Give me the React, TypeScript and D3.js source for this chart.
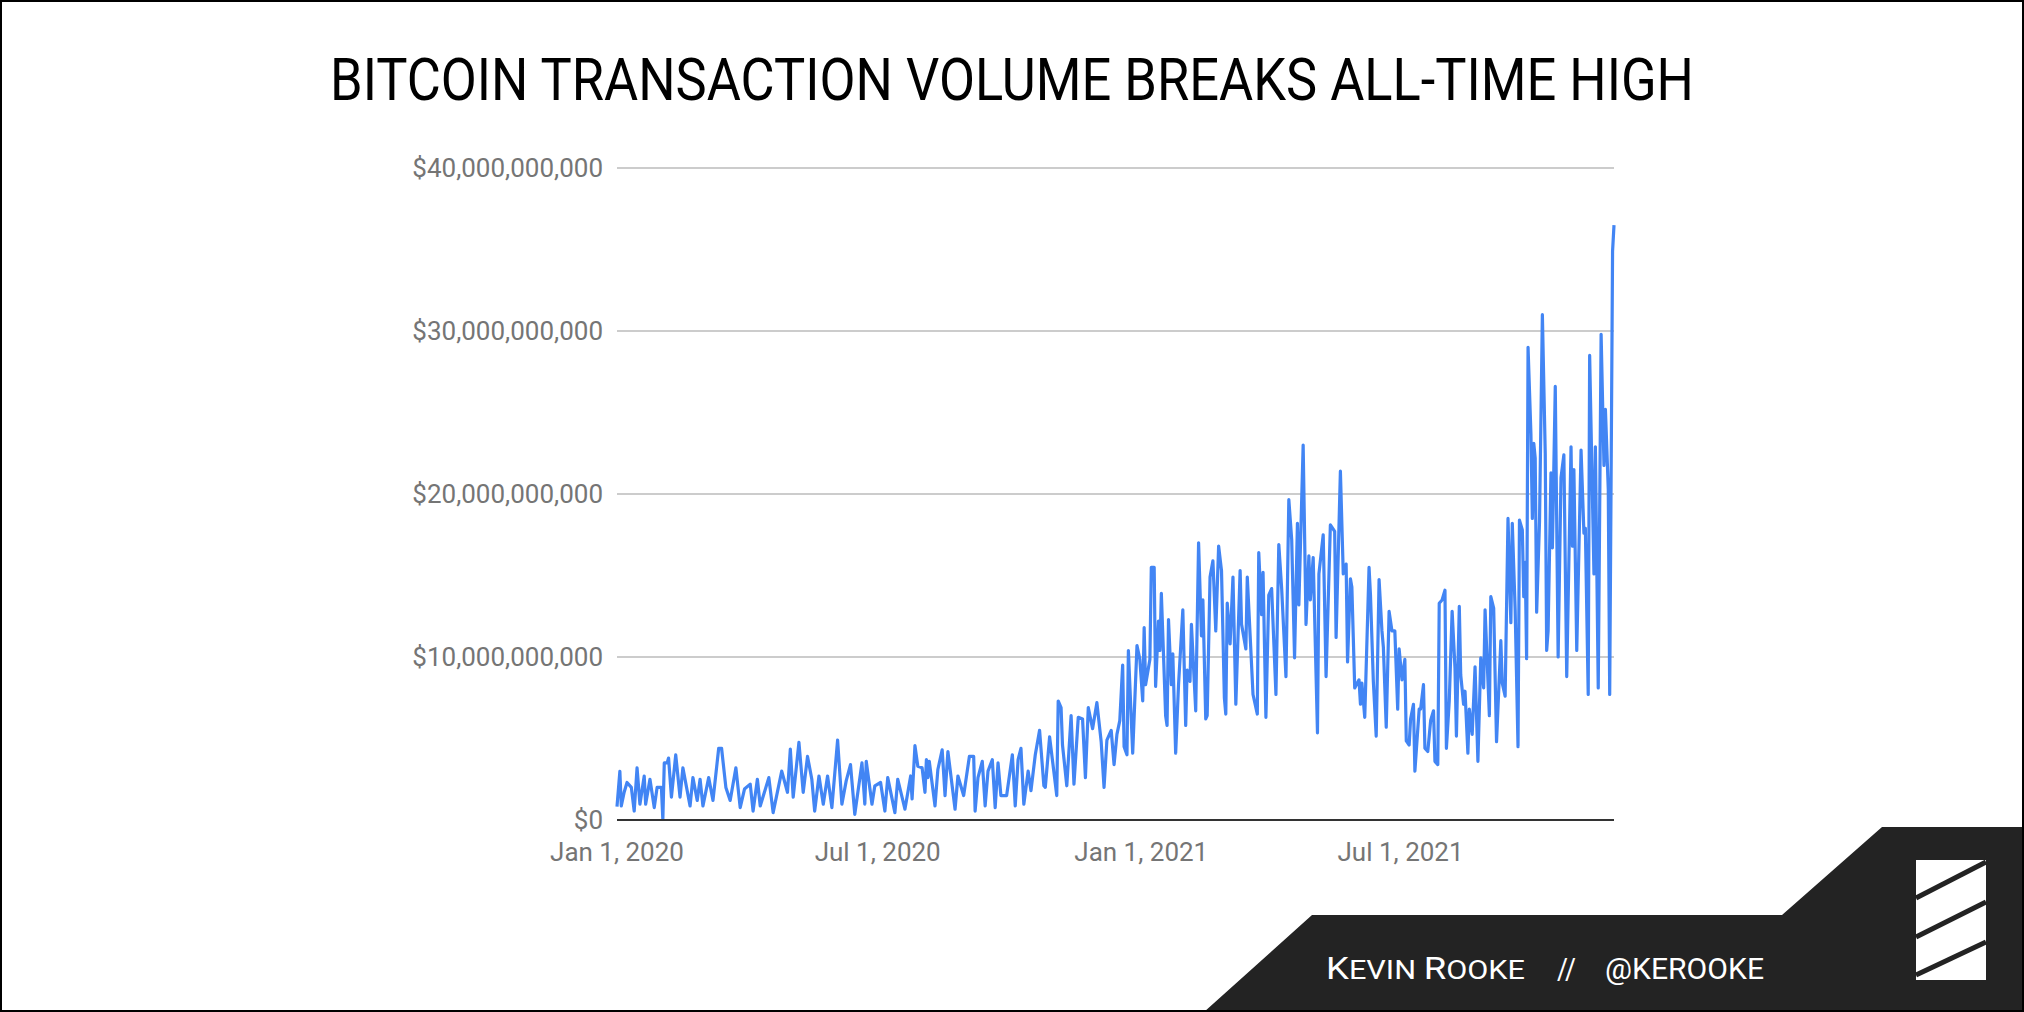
import React, { useRef, useEffect } from "react";
import * as d3 from "d3";

// days counted from Jan 1, 2020 (daily peaks and troughs)
const dayOffsets: number[] = [
  0, 2, 3, 5, 7, 10, 12, 14, 16, 19, 20, 23, 26, 28, 31, 32, 33, 35, 36, 38,
  41, 44, 46, 51, 53, 56, 58, 60, 64, 67, 69, 71, 73, 76, 79, 83, 86, 89, 93, 95,
  98, 100, 106, 109, 115, 119, 121, 123, 127, 130, 133, 136, 138, 141, 144, 147, 150, 154, 157, 160,
  163, 166, 171, 173, 174, 178, 180, 184, 187, 189, 194, 196, 201, 205, 206, 208, 210, 213, 215, 216,
  217, 218, 222, 224, 227, 229, 231, 236, 238, 242, 246, 249, 250, 252, 255, 257, 259, 262, 264, 266,
  268, 272, 276, 278, 280, 282, 284, 287, 289, 292, 295, 298, 299, 302, 307, 308, 310, 311, 314, 317,
  319, 322, 325, 327, 329, 332, 335, 338, 340, 342, 345, 347, 349, 351, 353, 354, 356, 357, 360, 363,
  365, 367, 368, 369, 372, 373, 375, 376, 378, 379, 380, 383, 384, 385, 387, 388, 390, 392, 395, 397,
  398, 400, 401, 404, 406, 408, 409, 411, 412, 414, 416, 418, 420, 422, 424, 425, 426, 428, 430, 432,
  435, 436, 439, 440, 444, 447, 448, 450, 451, 453, 455, 457, 460, 462, 464, 467, 469, 471, 473, 475,
  476, 479, 481, 483, 484, 486, 489, 490, 493, 495, 498, 501, 502, 505, 507, 509, 510, 512, 513, 514,
  515, 518, 519, 520, 522, 525, 526, 528, 530, 532, 534, 535, 537, 539, 541, 543, 545, 546, 548, 550,
  551, 553, 554, 556, 557, 560, 561, 563, 564, 566, 568, 570, 571, 573, 574, 576, 578, 579, 581, 583,
  585, 586, 588, 589, 591, 592, 594, 595, 597, 599, 601, 603, 605, 606, 609, 610, 612, 614, 617, 618,
  620, 622, 624, 625, 627, 629, 630, 632, 633, 634, 635, 636, 638, 639, 640, 641, 642, 644, 646, 648,
  649, 650, 652, 653, 655, 657, 659, 661, 663, 666, 667, 668, 670, 673, 675, 676, 678, 679, 682, 683,
  685, 687, 689, 690, 692, 693, 695, 696,
];

// transaction volume in billions of dollars
const volumeBillions: number[] = [
  0.82, 2.98, 0.86, 1.7, 2.3, 2.0, 0.55, 3.2, 0.97, 2.7, 0.97, 2.5, 0.76, 2.0, 2.0, 0.04, 3.5, 3.5, 3.8, 1.4,
  4.0, 1.4, 3.2, 0.86, 2.6, 1.2, 2.5, 0.86, 2.6, 1.2, 2.8, 4.4, 4.4, 2.0, 1.2, 3.2, 0.76, 1.9, 2.2, 0.55,
  2.5, 0.86, 2.6, 0.45, 3.0, 1.7, 4.35, 1.4, 4.76, 1.7, 3.9, 2.5, 0.55, 2.7, 0.97, 2.7, 0.76, 4.9, 0.97, 2.4,
  3.4, 0.35, 3.5, 0.97, 3.6, 0.97, 2.1, 2.3, 0.55, 2.6, 0.45, 2.5, 0.66, 2.7, 1.3, 4.56, 3.3, 3.2, 1.7, 3.7,
  2.6, 3.6, 0.86, 3.1, 4.3, 1.5, 4.2, 0.66, 2.7, 1.5, 3.9, 3.9, 0.55, 2.6, 3.6, 0.86, 3.0, 3.7, 0.76, 3.5,
  1.5, 1.5, 4.0, 0.86, 3.7, 4.4, 0.97, 3.0, 1.8, 4.0, 5.5, 2.1, 2.0, 5.1, 1.5, 7.3, 6.9, 4.6, 2.1, 6.4,
  2.2, 6.3, 6.2, 2.6, 6.9, 5.6, 7.2, 4.8, 2.0, 4.9, 5.5, 3.4, 5.25, 6.1, 9.5, 4.5, 4.0, 10.4, 4.1, 10.7,
  9.85, 7.3, 11.8, 8.3, 9.85, 15.5, 15.5, 8.2, 12.2, 10.4, 13.9, 6.4, 5.8, 12.3, 8.3, 10.2, 4.1, 8.3, 12.9, 5.8,
  9.2, 8.5, 12.0, 6.7, 17.0, 11.3, 13.5, 6.2, 6.4, 14.9, 15.9, 11.6, 16.8, 15.3, 7.5, 6.5, 13.3, 10.8, 14.9, 7.1,
  15.3, 12.0, 10.5, 14.9, 7.7, 6.5, 16.4, 12.6, 15.2, 6.3, 13.8, 14.2, 7.7, 16.9, 14.2, 8.8, 19.65, 17.2, 9.95, 18.2,
  13.2, 23.0, 12.0, 16.2, 13.5, 16.1, 5.35, 15.1, 17.5, 8.8, 18.1, 17.7, 11.2, 21.4, 15.1, 15.7, 9.7, 14.8, 14.3, 11.2,
  8.1, 8.6, 7.1, 8.4, 6.3, 15.5, 13.8, 8.5, 5.15, 14.75, 11.6, 10.6, 5.7, 12.8, 11.6, 11.6, 6.8, 10.5, 8.6, 9.85,
  4.85, 4.6, 6.2, 7.1, 3.0, 6.8, 6.8, 8.3, 4.4, 4.2, 6.1, 6.7, 3.6, 3.4, 13.3, 13.5, 14.1, 4.4, 7.3, 12.8,
  9.3, 5.15, 13.1, 8.9, 7.1, 7.9, 4.1, 6.8, 5.25, 9.4, 3.6, 9.95, 8.1, 12.9, 6.4, 13.7, 13.0, 4.8, 11.0, 8.4,
  7.6, 18.5, 12.1, 18.2, 12.9, 4.5, 18.4, 17.8, 13.7, 15.8, 9.9, 29.0, 23.7, 18.5, 23.1, 22.2, 12.75, 18.3, 31.0, 22.5,
  10.4, 11.6, 21.3, 16.7, 26.6, 10.0, 21.0, 22.4, 8.8, 22.9, 16.8, 21.5, 10.4, 22.7, 17.6, 17.9, 7.7, 28.5, 15.1, 22.9,
  8.1, 29.8, 21.75, 25.2, 20.3, 7.7, 34.9, 36.5,
];

const yTicks: number[] = [0, 10, 20, 30, 40];
const xTickDates: string[] = ["2020-01-01", "2020-07-01", "2021-01-01", "2021-07-01"];

const TITLE = "BITCOIN TRANSACTION VOLUME BREAKS ALL-TIME HIGH";

function drawChart(svgElement: SVGSVGElement, totalWidth: number, totalHeight: number) {
  const svg = d3.select(svgElement);
  svg.selectAll("*").remove();

  const margin = { top: 168, right: 410, bottom: 192, left: 617 };
  const font = "Roboto, 'Noto Sans', sans-serif";
  const start = new Date(2020, 0, 1);
  const parse = d3.timeParse("%Y-%m-%d");

  const points = dayOffsets.map((d, i) => ({
    date: d3.timeDay.offset(start, d),
    value: volumeBillions[i],
  }));

  const x = d3
    .scaleTime()
    .domain([start, d3.timeDay.offset(start, d3.max(dayOffsets) as number)])
    .range([margin.left, totalWidth - margin.right]);

  const y = d3
    .scaleLinear()
    .domain([0, 40])
    .range([totalHeight - margin.bottom, margin.top]);

  svg.append("rect").attr("width", totalWidth).attr("height", totalHeight).attr("fill", "#fff");

  // title
  svg
    .append("text")
    .attr("x", totalWidth / 2)
    .attr("y", 100)
    .attr("text-anchor", "middle")
    .attr("textLength", 1364)
    .attr("lengthAdjust", "spacingAndGlyphs")
    .style("font-family", font)
    .style("font-size", "60px")
    .style("fill", "#000")
    .text(TITLE);

  // horizontal gridlines
  svg
    .selectAll(".grid")
    .data(yTicks.filter((t) => t > 0))
    .enter()
    .append("line")
    .attr("x1", x.range()[0])
    .attr("x2", x.range()[1])
    .attr("y1", (d) => y(d))
    .attr("y2", (d) => y(d))
    .style("stroke", "#cccccc")
    .style("stroke-width", 2);

  const money = d3.format("$,");
  svg
    .selectAll(".ylab")
    .data(yTicks)
    .enter()
    .append("text")
    .attr("x", x.range()[0] - 14)
    .attr("y", (d) => y(d))
    .attr("dy", "0.36em")
    .attr("text-anchor", "end")
    .style("font-family", font)
    .style("font-size", "26px")
    .style("fill", "#757575")
    .text((d) => money(d * 1e9));

  const dateFmt = d3.timeFormat("%b %-d, %Y");
  svg
    .selectAll(".xlab")
    .data(xTickDates.map((s) => parse(s) as Date))
    .enter()
    .append("text")
    .attr("x", (d) => x(d))
    .attr("y", 861)
    .attr("text-anchor", "middle")
    .style("font-family", font)
    .style("font-size", "26px")
    .style("fill", "#757575")
    .text((d) => dateFmt(d));

  const line = d3
    .line<{ date: Date; value: number }>()
    .x((d) => x(d.date))
    .y((d) => y(d.value));

  svg
    .append("path")
    .datum(points)
    .attr("d", line)
    .style("fill", "none")
    .style("stroke", "#4285f4")
    .style("stroke-width", 3.2)
    .style("stroke-linejoin", "round");

  // baseline
  svg
    .append("line")
    .attr("x1", x.range()[0])
    .attr("x2", x.range()[1])
    .attr("y1", y(0))
    .attr("y2", y(0))
    .style("stroke", "#333333")
    .style("stroke-width", 2);

  // footer band
  svg
    .append("polygon")
    .attr("points", "1204,1012 1312,915 1782,915 1882,827 2024,827 2024,1012")
    .style("fill", "#232323");

  const footer = svg
    .append("g")
    .style("font-family", font)
    .style("fill", "#ffffff");

  const name = footer
    .append("text")
    .attr("x", 1326)
    .attr("y", 979)
    .attr("textLength", 199)
    .attr("lengthAdjust", "spacingAndGlyphs");
  name.append("tspan").style("font-size", "31px").text("K");
  name.append("tspan").style("font-size", "26px").text("EVIN ");
  name.append("tspan").style("font-size", "31px").text("R");
  name.append("tspan").style("font-size", "26px").text("OOKE");

  footer
    .append("text")
    .attr("x", 1557)
    .attr("y", 979)
    .attr("textLength", 19)
    .attr("lengthAdjust", "spacingAndGlyphs")
    .style("font-size", "30px")
    .text("//");

  footer
    .append("text")
    .attr("x", 1605)
    .attr("y", 979)
    .attr("textLength", 159)
    .attr("lengthAdjust", "spacingAndGlyphs")
    .style("font-size", "29px")
    .text("@KEROOKE");

  // logo
  svg
    .append("rect")
    .attr("x", 1916)
    .attr("y", 860)
    .attr("width", 70)
    .attr("height", 120)
    .style("fill", "#ffffff");
  const stripes = [
    [898, 862],
    [937, 902],
    [975, 942],
  ];
  svg
    .selectAll(".stripe")
    .data(stripes)
    .enter()
    .append("line")
    .attr("x1", 1916)
    .attr("x2", 1986)
    .attr("y1", (d) => d[0])
    .attr("y2", (d) => d[1])
    .style("stroke", "#232323")
    .style("stroke-width", 5);

  // outer frame
  svg
    .append("rect")
    .attr("x", 1)
    .attr("y", 1)
    .attr("width", totalWidth - 2)
    .attr("height", totalHeight - 2)
    .style("fill", "none")
    .style("stroke", "#000")
    .style("stroke-width", 2);
}

const App: React.FunctionComponent = function () {
  const width = 2024;
  const height = 1012;
  const svgRef = useRef<SVGSVGElement>(null);

  useEffect(() => {
    if (svgRef.current == null) {
      return;
    }
    drawChart(svgRef.current, width, height);
  }, []);

  return (
    <svg
      ref={svgRef}
      width={width}
      height={height}
      style={{ position: "absolute", left: 0, top: 0, display: "block" }}
    />
  );
};

export default App;
